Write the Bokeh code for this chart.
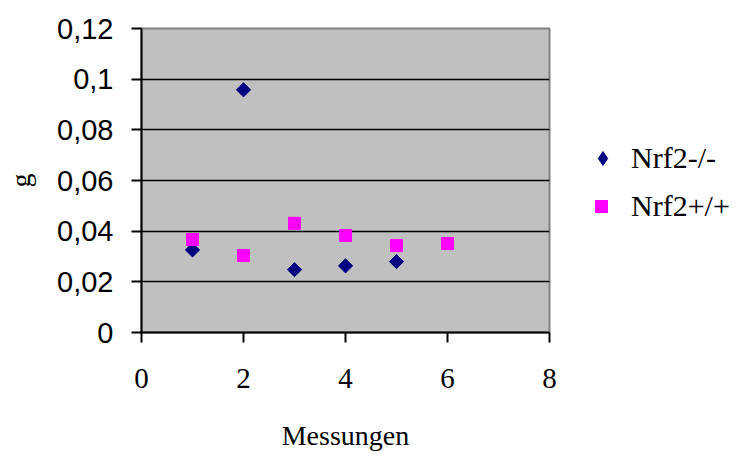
import math
from bokeh.plotting import figure
from bokeh.layouts import row
from bokeh.models import Legend, LegendItem, FixedTicker, Range1d
from bokeh.embed import file_html
from bokeh.resources import INLINE

# Data
x_ko = [1, 2, 3, 4, 5]
y_ko = [0.0326, 0.0958, 0.0248, 0.0263, 0.0280]
x_wt = [1, 2, 3, 4, 5, 6]
y_wt = [0.0367, 0.0304, 0.0431, 0.0383, 0.0343, 0.0351]
name_ko = "Nrf2-/-"
name_wt = "Nrf2+/+"

x_ticks = [0, 2, 4, 6, 8]
x_labels = ["0", "2", "4", "6", "8"]
y_ticks = [0, 0.02, 0.04, 0.06, 0.08, 0.1, 0.12]
y_labels = ["0", "0,02", "0,04", "0,06", "0,08", "0,1", "0,12"]
x_title = "Messungen"
y_title = "g"

KO_COLOR = "#000080"
WT_COLOR = "#ff00ff"

p = figure(width=565, height=453, output_backend="svg", toolbar_location=None,
           x_range=Range1d(x_ticks[0], x_ticks[-1]), y_range=Range1d(y_ticks[0], y_ticks[-1]),
           min_border_left=141, min_border_right=16, min_border_top=28, min_border_bottom=121)

p.background_fill_color = "#c0c0c0"
p.border_fill_color = "white"
p.outline_line_color = "#808080"
p.outline_line_width = 2

p.xgrid.grid_line_color = None
p.ygrid.grid_line_color = "black"
p.ygrid.grid_line_width = 1.5
p.ygrid.ticker = FixedTicker(ticks=y_ticks)

for ax in (p.xaxis[0], p.yaxis[0]):
    ax.axis_line_color = "black"
    ax.axis_line_width = 2
    ax.major_tick_line_color = "black"
    ax.major_tick_line_width = 2
    ax.major_tick_out = 10
    ax.major_tick_in = 0
    ax.minor_tick_line_color = None
    ax.axis_label_text_font_style = "normal"
    ax.axis_label_text_color = "black"
    ax.major_label_text_color = "black"

p.xaxis.ticker = FixedTicker(ticks=x_ticks)
p.xaxis.major_label_overrides = {t: l for t, l in zip(x_ticks, x_labels)}
p.xaxis.major_label_text_font = "Liberation Serif"
p.xaxis.major_label_text_font_size = "29px"
p.xaxis.major_label_standoff = 26
p.xaxis.axis_label = x_title
p.xaxis.axis_label_text_font = "Liberation Serif"
p.xaxis.axis_label_text_font_size = "28px"
p.xaxis.axis_label_standoff = 29

p.yaxis.ticker = FixedTicker(ticks=y_ticks)
p.yaxis.major_label_overrides = {t: l for t, l in zip(y_ticks, y_labels)}
p.yaxis.major_label_text_font = "Liberation Sans"
p.yaxis.major_label_text_font_size = "29px"
p.yaxis.major_label_standoff = 18
p.yaxis.axis_label = y_title
p.yaxis.axis_label_text_font = "Liberation Serif"
p.yaxis.axis_label_text_font_size = "28px"
p.yaxis.axis_label_standoff = 18

r_ko = p.scatter(x_ko, y_ko, marker="square", size=10, angle=math.pi / 4,
                 fill_color=KO_COLOR, line_color=KO_COLOR)
r_wt = p.scatter(x_wt, y_wt, marker="square", size=12,
                 fill_color=WT_COLOR, line_color=WT_COLOR)

# Legend panel: same series, ranges chosen so that no mark falls inside it
p2 = figure(width=170, height=453, output_backend="svg", toolbar_location=None,
            x_axis_location=None, y_axis_location=None, min_border=0,
            x_range=Range1d(100, 101), y_range=Range1d(100, 101))
p2.outline_line_color = None
p2.grid.grid_line_color = None
l_ko = p2.scatter(x_ko, y_ko, marker="diamond",
                  fill_color=KO_COLOR, line_color=KO_COLOR)
l_wt = p2.scatter(x_wt, y_wt, marker="square",
                  fill_color=WT_COLOR, line_color=WT_COLOR)


def make_legend(label, renderer, loc, glyph_w, standoff):
    lg = Legend(items=[LegendItem(label=label, renderers=[renderer])], location=loc)
    lg.label_text_font = "Liberation Serif"
    lg.label_text_font_size = "30px"
    lg.label_text_color = "black"
    lg.border_line_color = None
    lg.background_fill_alpha = 0
    lg.padding = 0
    lg.margin = 0
    lg.glyph_width = glyph_w
    lg.glyph_height = 36
    lg.label_height = 36
    lg.label_standoff = standoff
    return lg


p2.add_layout(make_legend(name_ko, l_ko, (20, 156), 35, 11))
p2.add_layout(make_legend(name_wt, l_wt, (21, 108), 30, 15))

layout = row(p, p2)
open("out.html", "w").write(file_html(layout, INLINE))
